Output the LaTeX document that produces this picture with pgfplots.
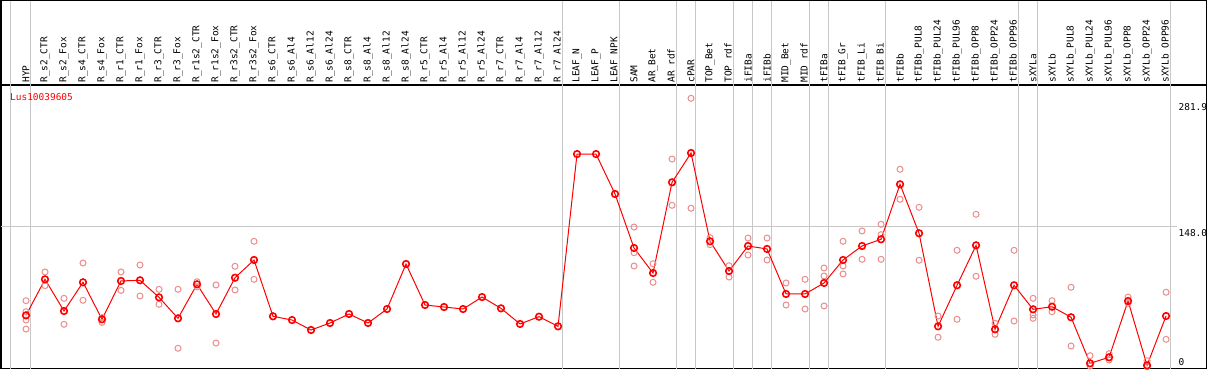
\documentclass[border=0pt]{standalone}
\usepackage{pgfplots}
\usepackage{pgfplotstable}
\pgfplotsset{compat=1.18}
\usepackage{fontspec}
\setmainfont{DejaVu Sans Mono}
\definecolor{meanred}{RGB}{255,0,0}
\definecolor{reppink}{RGB}{236,140,140}
\definecolor{sepgray}{RGB}{200,200,200}

\pgfplotstableread{
x y
0 55.5
1 93.1
2 60.0
3 90.0
4 51.4
5 91.4
6 92.1
7 74.3
8 52.4
9 87.9
10 56.9
11 94.8
12 113.3
13 54.5
14 50.6
15 40.2
16 47.5
17 56.9
18 47.5
19 62.1
20 109.1
21 66.3
22 64.2
23 62.1
24 74.6
25 62.8
26 46.5
27 54.1
28 44.0
29 223.9
30 223.9
31 182.2
32 125.8
33 99.7
34 194.4
35 225.0
36 132.8
37 101.8
38 127.9
39 124.8
40 77.8
41 77.8
42 89.3
43 113.3
44 127.9
45 134.9
46 192.3
47 141.2
48 44.0
49 86.9
50 128.6
51 40.9
52 86.9
53 61.8
54 64.5
55 53.5
56 5.4
57 11.7
58 70.5
59 3.3
60 54.8
}\meantable

\pgfplotstableread{
x y
0 70.8
0 59.3
0 50.6
0 41.2
1 100.8
1 86.5
2 73.3
2 46.1
3 110.1
3 71.2
4 53.1
4 48.2
5 100.8
5 81.6
6 108.1
6 75.7
7 82.7
7 67.0
8 82.7
8 21.1
9 90.6
9 85.2
10 87.2
10 26.6
11 106.7
11 82.0
12 132.8
12 93.1
32 147.7
32 120.9
32 107.0
33 109.4
33 90.0
34 218.7
34 170.4
35 282.1
35 167.3
36 136.6
36 129.3
37 107.3
37 95.5
38 136.2
38 118.5
39 136.2
39 113.3
40 89.3
40 66.3
41 93.1
41 62.1
42 104.9
42 96.6
42 65.3
43 132.8
43 107.0
43 98.7
44 143.6
44 114.0
45 150.6
45 139.7
45 114.0
46 208.0
46 176.7
47 168.3
47 113.0
48 54.8
48 32.6
49 123.4
49 51.4
50 161.0
50 96.3
51 47.2
51 35.7
52 123.4
52 49.6
53 73.3
53 55.9
53 52.4
54 70.8
54 59.3
55 84.8
55 23.5
56 13.4
56 2.6
57 15.5
57 8.9
58 74.6
58 68.1
59 8.1
59 1.9
60 79.6
60 30.5
}\reptable

\begin{document}
\begin{tikzpicture}[x=1bp,y=1bp]
\path[use as bounding box] (-1,-1.5) rectangle (1208,368.5);
\begin{axis}[
  at={(0,0)}, anchor=south west,
  scale only axis, width=1205.5bp, height=283.5bp,
  xmin=-1.3158, xmax=62.13, ymin=0, ymax=296,
  clip=false,
  axis line style={line width=1.5bp},
  xtick={0,...,60},
  xticklabels={HYP, R\_s2\_CTR, R\_s2\_Fox, R\_s4\_CTR, R\_s4\_Fox, R\_r1\_CTR, R\_r1\_Fox, R\_r3\_CTR, R\_r3\_Fox, R\_r1s2\_CTR, R\_r1s2\_Fox, R\_r3s2\_CTR, R\_r3s2\_Fox, R\_s6\_CTR, R\_s6\_Al4, R\_s6\_Al12, R\_s6\_Al24, R\_s8\_CTR, R\_s8\_Al4, R\_s8\_Al12, R\_s8\_Al24, R\_r5\_CTR, R\_r5\_Al4, R\_r5\_Al12, R\_r5\_Al24, R\_r7\_CTR, R\_r7\_Al4, R\_r7\_Al12, R\_r7\_Al24, LEAF\_N, LEAF\_P, LEAF\_NPK, SAM, AR\_Bet, AR\_rdf, cPAR, TOP\_Bet, TOP\_rdf, iFIBa, iFIBb, MID\_Bet, MID\_rdf, tFIBa, tFIB\_Gr, tFIB\_Li, tFIB\_Bi, tFIBb, tFIBb\_PUL8, tFIBb\_PUL24, tFIBb\_PUL96, tFIBb\_OPP8, tFIBb\_OPP24, tFIBb\_OPP96, sXYLa, sXYLb, sXYLb\_PUL8, sXYLb\_PUL24, sXYLb\_PUL96, sXYLb\_OPP8, sXYLb\_OPP24, sXYLb\_OPP96},
  xticklabel pos=upper,
  major tick length=0pt,
  xticklabel style={rotate=90, anchor=west, inner sep=0pt, font=\fontsize{9.5}{10}\selectfont},
  xticklabel shift=2.3bp,
  ytick=\empty,
]
\pgfplotsinvokeforeach{-0.8,0.24,28.24,31.24,34.24,35.24,37.24,38.24,39.24,41.24,42.24,45.24,52.24,53.24,60.24}{
  \draw[sepgray, line width=1bp] (axis cs:#1,0) -- (axis cs:#1,296) -- ++(0bp,85bp);
}
\draw[sepgray, line width=1bp] (axis cs:-1.3158,148) -- (axis cs:60.55,148);
\draw[line width=1.5bp] (rel axis cs:0,1) -- ++(0bp,84.25bp) -| (rel axis cs:1,1);

\addplot[only marks, reppink, mark=o, mark size=3bp, mark options={line width=1bp}] table[x=x,y=y] {\reptable};
\addplot[meanred, line width=1bp, mark=o, mark size=3.3bp, mark options={line width=1.6bp}] table[x=x,y=y] {\meantable};

\node[anchor=west, inner sep=0pt, text=meanred, font=\fontsize{9.5}{10}\selectfont] at (axis cs:-0.842,283.5) {Lus10039605};
\node[anchor=west, inner sep=0pt, font=\fontsize{9.5}{10}\selectfont] at (axis cs:60.65,273.3) {281.9};
\node[anchor=west, inner sep=0pt, font=\fontsize{9.5}{10}\selectfont] at (axis cs:60.65,141.8) {148.0};
\node[anchor=west, inner sep=0pt, font=\fontsize{9.5}{10}\selectfont] at (axis cs:60.65,7.1) {0};
\end{axis}
\end{tikzpicture}
\end{document}
